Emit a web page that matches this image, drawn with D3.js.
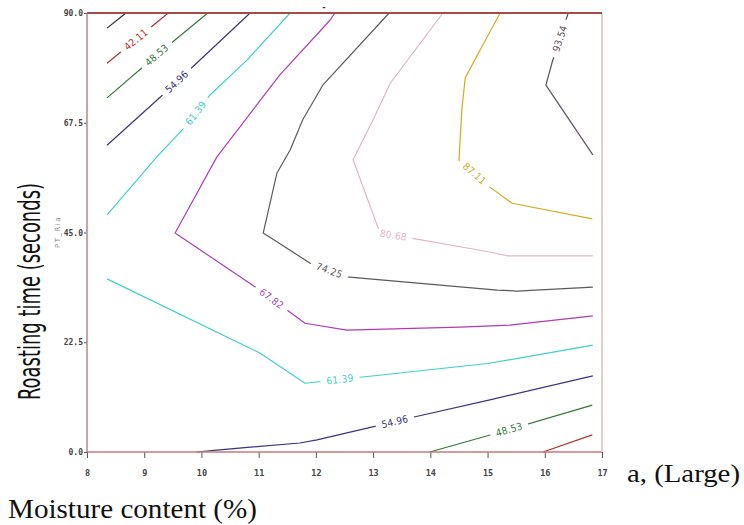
<!DOCTYPE html>
<html>
<head>
<meta charset="utf-8">
<script src="https://cdn.jsdelivr.net/npm/d3@7"></script>
<style>
  html, body { margin: 0; padding: 0; background: #fff; }
  svg { display: block; }
</style>
</head>
<body>
<svg id="chart" width="744" height="525"></svg>
<script>
// ---------- DATA ----------
const xTicks = [8, 9, 10, 11, 12, 13, 14, 15, 16, 17];
const yTicks = [0, 22.5, 45, 67.5, 90];
const xTitle = "Moisture content (%)";
const yTitle = "Roasting time (seconds)";
const sideNote = "a, (Large)";
const innerYLabel = "PT_Ria";

// contour polylines: [moisture, time]
const c3568 = [[8.35, 86.9], [8.68, 90]];
const c4211top = [[8.35, 79.7], [9.42, 90]];
const c4211bot = [[15.97, 0], [16.83, 3.5]];
const c4853top = [[8.35, 72.6], [9.22, 81.4], [10.11, 90]];
const c4853bot = [[13.99, 0], [15.2, 4.0], [16.83, 9.6]];
const c5496top = [[8.35, 62.9], [9.36, 73.6], [10.85, 90]];
const c5496bot = [[9.92, 0], [10.27, 0.4], [11.72, 1.85], [12.02, 2.5], [13.12, 5.5], [13.64, 6.97], [15.04, 10.7], [16.84, 15.6]];
const c6139top = [[8.35, 48.6], [9.22, 60.5], [9.71, 66.6], [10.15, 73.2], [10.80, 80.4], [11.55, 90]];
const c6139bot = [[8.35, 35.5], [11.02, 20.3], [11.81, 14.1], [15.04, 18.2], [16.84, 21.9]];
const c6782 = [[12.33, 90], [12.25, 88.56], [11.37, 77.3], [10.27, 60.5], [9.54, 44.9], [11.02, 33.2], [11.81, 26.4], [12.54, 25.0], [14.52, 25.6], [15.39, 26.0], [16.84, 27.9]];
const c7425 = [[13.28, 90], [12.12, 75.2], [11.77, 68.1], [11.55, 61.9], [11.32, 57.2], [11.08, 44.9], [11.90, 38.7], [12.54, 35.9], [15.17, 33.2], [15.51, 33.0], [16.84, 33.8]];
const c8068 = [[14.22, 90], [13.30, 75.6], [13.00, 68.1], [12.65, 59.9], [13.12, 44.9], [13.64, 43.9], [15.04, 41.0], [15.36, 40.2], [16.84, 40.2]];
const c8711 = [[15.22, 90], [14.87, 82.4], [14.61, 76.7], [14.55, 70.1], [14.50, 59.9], [15.04, 54.3], [15.43, 51.0], [16.83, 47.8]];
const c9354 = [[16.41, 90], [16.13, 79.95], [16.02, 75.2], [16.84, 60.9]];

// contour level of each polyline
const lineLevels = ["35.68", "42.11", "42.11", "48.53", "48.53", "54.96", "54.96", "61.39", "61.39", "67.82", "74.25", "80.68", "87.11", "93.54"];
// label anchor (moisture, time) for each polyline, null = no label
const labelAt = [null, [8.91, 83.8], null, [9.22, 81.4], [15.39, 4.1], [9.57, 75.9], [13.38, 6.2], [9.92, 69.3], [12.42, 15.0], [11.25, 31.8], [12.23, 37.1], [13.35, 44.1], [14.8, 57.4], [16.23, 84.9]];

// ---------- STYLE ----------
const levelColors = {
  "35.68": "#2b2b2b",
  "42.11": "#b0302e",
  "48.53": "#2f7a35",
  "54.96": "#3b3382",
  "61.39": "#3fd0cc",
  "67.82": "#b03cb4",
  "74.25": "#5a5a5a",
  "80.68": "#e2b4cc",
  "87.11": "#d6aa1e",
  "93.54": "#5e4e62"
};

const polylines = [c3568, c4211top, c4211bot, c4853top, c4853bot, c5496top, c5496bot, c6139top, c6139bot, c6782, c7425, c8068, c8711, c9354];

const svg = d3.select("#chart");
const margin = { left: 87, right: 602, top: 13, bottom: 452 };

const x = d3.scaleLinear().domain([8, 17]).range([margin.left, margin.right]);
const y = d3.scaleLinear().domain([0, 90]).range([margin.bottom, margin.top]);

// axes
const xAxis = d3.axisBottom(x).tickValues(xTicks).tickSize(6).tickPadding(12).tickFormat(d3.format("d"));
const yAxis = d3.axisLeft(y).tickValues(yTicks).tickSize(3).tickPadding(1).tickFormat(d3.format(".1f"));

const gx = svg.append("g").attr("transform", `translate(0,${margin.bottom})`).call(xAxis);
const gy = svg.append("g").attr("transform", `translate(${margin.left},0)`).call(yAxis);
[gx, gy].forEach(g => {
  g.select(".domain").remove();
  g.selectAll(".tick line").attr("stroke", "#555").attr("stroke-width", 1);
  g.selectAll(".tick text")
    .attr("font-family", "'DejaVu Sans Mono', monospace")
    .attr("font-weight", "bold")
    .attr("font-size", 8)
    .attr("fill", "#444");
});
gx.selectAll(".tick text").attr("font-size", 8.5);

// contour lines
const line = d3.line().x(d => x(d[0])).y(d => y(d[1]));
const gLines = svg.append("g");
polylines.forEach((pts, i) => {
  gLines.append("path")
    .attr("d", line(pts))
    .attr("fill", "none")
    .attr("stroke", levelColors[lineLevels[i]])
    .attr("stroke-width", 1.2)
    .attr("stroke-linejoin", "round");
});

// labels
const gLabels = svg.append("g");
polylines.forEach((pts, i) => {
  const at = labelAt[i];
  if (!at) return;
  const px = x(at[0]), py = y(at[1]);
  let best = null;
  for (let k = 0; k < pts.length - 1; k++) {
    const ax = x(pts[k][0]), ay = y(pts[k][1]);
    const bx = x(pts[k + 1][0]), by = y(pts[k + 1][1]);
    const dx = bx - ax, dy = by - ay;
    const L2 = dx * dx + dy * dy;
    let t = ((px - ax) * dx + (py - ay) * dy) / L2;
    t = Math.max(0, Math.min(1, t));
    const qx = ax + t * dx, qy = ay + t * dy;
    const dist = Math.hypot(px - qx, py - qy);
    if (!best || dist < best.dist) best = { dist, qx, qy, ang: Math.atan2(dy, dx) * 180 / Math.PI };
  }
  let ang = best.ang;
  if (ang > 90) ang -= 180;
  if (ang < -90) ang += 180;
  const col = levelColors[lineLevels[i]];
  const g = gLabels.append("g").attr("transform", `translate(${best.qx},${best.qy}) rotate(${ang})`);
  const rect = g.append("rect").attr("fill", "#fff");
  const t = g.append("text")
    .attr("text-anchor", "middle")
    .attr("dy", "0.35em")
    .attr("font-family", "'Liberation Sans Narrow', 'DejaVu Sans Condensed', sans-serif")
    .attr("font-size", 10)
    .attr("fill", col)
    .attr("letter-spacing", 0.3)
    .text(lineLevels[i]);
  const w = t.node().getComputedTextLength();
  rect.attr("x", -w / 2 - 6).attr("y", -4).attr("width", w + 12).attr("height", 8);
});

// frame
svg.append("line").attr("x1", margin.left).attr("x2", margin.left).attr("y1", margin.top).attr("y2", margin.bottom)
  .attr("stroke", "#c08c8c").attr("stroke-width", 1.6);
svg.append("line").attr("x1", margin.left).attr("x2", margin.right).attr("y1", margin.bottom).attr("y2", margin.bottom)
  .attr("stroke", "#c47a78").attr("stroke-width", 1.6);
svg.append("line").attr("x1", margin.right).attr("x2", margin.right).attr("y1", margin.top).attr("y2", margin.bottom)
  .attr("stroke", "#dcb8b8").attr("stroke-width", 1.4);
svg.append("line").attr("x1", margin.left).attr("x2", margin.right).attr("y1", margin.top).attr("y2", margin.top)
  .attr("stroke", "#a84a48").attr("stroke-width", 1.8);

// small mark above plot
svg.append("text").attr("x", 324).attr("y", 10).attr("text-anchor", "middle")
  .attr("font-family", "'DejaVu Sans Mono', monospace").attr("font-size", 8).attr("font-weight", "bold")
  .attr("fill", "#333").text("-");

// inner small y label
svg.append("text")
  .attr("transform", "translate(60,232) rotate(-90)")
  .attr("text-anchor", "middle")
  .attr("font-family", "'DejaVu Sans', sans-serif")
  .attr("font-size", 7)
  .attr("letter-spacing", 1.5)
  .attr("fill", "#8a8a8a")
  .text(innerYLabel);

// big y title
svg.append("text")
  .attr("transform", "translate(40,291.5) rotate(-90)")
  .attr("text-anchor", "middle")
  .attr("font-family", "'Liberation Sans Narrow', 'DejaVu Sans Condensed', sans-serif")
  .attr("font-size", 31)
  .attr("textLength", 217)
  .attr("lengthAdjust", "spacingAndGlyphs")
  .attr("fill", "#111")
  .text(yTitle);

// x title
svg.append("text")
  .attr("x", 8).attr("y", 518)
  .attr("font-family", "'Liberation Serif', 'Times New Roman', serif")
  .attr("font-size", 28)
  .attr("textLength", 249)
  .attr("lengthAdjust", "spacingAndGlyphs")
  .attr("fill", "#111")
  .text(xTitle);

// side note
svg.append("text")
  .attr("x", 627).attr("y", 482)
  .attr("font-family", "'Liberation Serif', 'Times New Roman', serif")
  .attr("font-size", 25)
  .attr("textLength", 113)
  .attr("lengthAdjust", "spacingAndGlyphs")
  .attr("fill", "#111")
  .text(sideNote);
</script>
</body>
</html>
